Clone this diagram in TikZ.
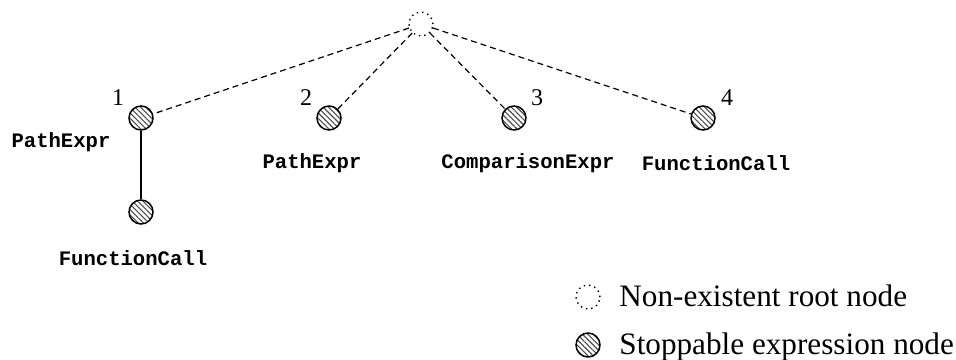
\documentclass[tikz,border=0pt]{standalone}
\usepackage{fontspec}
\setmainfont{Liberation Serif}
\newfontfamily\codefont{Liberation Mono}
\usetikzlibrary{patterns.meta}
\begin{document}
\begin{tikzpicture}[x=0.5pt,y=-0.5pt,
  rootnode/.style={circle,draw,dotted,line width=0.7pt,minimum size=12pt,inner sep=0pt},
  stopnode/.style={circle,draw,line width=0.75pt,minimum size=12pt,inner sep=0pt,
    pattern={Lines[angle=-45,distance=1.9pt,line width=0.55pt]},pattern color=black!70},
  treeedge/.style={dashed,dash pattern=on 3pt off 2pt,line width=0.6pt},
  childedge/.style={line width=0.65pt},
  exprlabel/.style={font=\codefont\bfseries\fontsize{10.3}{12}\selectfont,inner sep=0pt},
  numlabel/.style={font=\fontsize{12}{14}\selectfont,inner sep=0pt},
  legendtext/.style={font=\fontsize{15.6}{18}\selectfont,anchor=base west,inner sep=0pt}]
\useasboundingbox (0,0) rectangle (956,359);

% tree
\node[rootnode] (root) at (421,24) {};
\node[stopnode] (n1) at (141,118) {};
\node[stopnode] (n2) at (329,118) {};
\node[stopnode] (n3) at (514,118) {};
\node[stopnode] (n4) at (703,118) {};
\node[stopnode] (n5) at (141,212) {};

\draw[treeedge] (root) -- (n1);
\draw[treeedge] (root) -- (n2);
\draw[treeedge] (root) -- (n3);
\draw[treeedge] (root) -- (n4);
\draw[childedge] (n1) -- (n5);

% numbers
\node[numlabel] (l1) at (118,98) {1};
\node[numlabel] (l2) at (306,98) {2};
\node[numlabel] (l3) at (537,98) {3};
\node[numlabel] (l4) at (727,98) {4};

% expression names
\node[exprlabel] (e1) at (61,142) {PathExpr};
\node[exprlabel] (e2) at (312,163) {PathExpr};
\node[exprlabel] (e3) at (528,163) {ComparisonExpr};
\node[exprlabel] (e4) at (716,163) {FunctionCall};
\node[exprlabel] (e5) at (133,258) {FunctionCall};

% legend
\node[rootnode] (k1) at (588,297) {};
\node[legendtext] (t1) at (619,306) {Non-existent root node};
\node[stopnode] (k2) at (588,345) {};
\node[legendtext] (t2) at (619,354) {Stoppable expression node};
\end{tikzpicture}
\end{document}
